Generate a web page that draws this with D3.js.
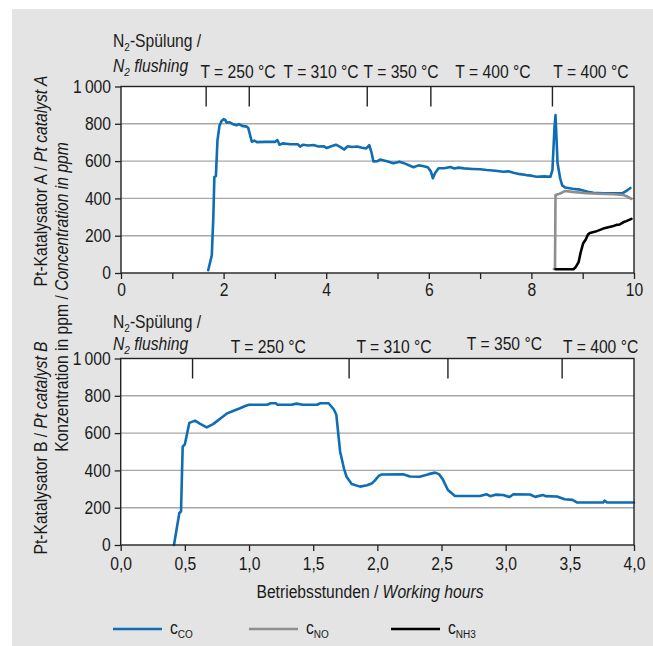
<!DOCTYPE html>
<html>
<head>
<meta charset="utf-8">
<script src="https://cdn.jsdelivr.net/npm/d3@7"></script>
<style>
  html, body { margin: 0; padding: 0; background: #fff; }
  svg { display: block; }
  text { font-family: "Liberation Sans", Arial, sans-serif; fill: #1a1a1a; }
</style>
</head>
<body>
<svg id="chart" width="653" height="646"></svg>
<script>
// ---- Catalyst A (hours 0–10) ----
const catalystA_CO = [[1.70,15],[1.77,95],[1.80,300],[1.82,515],[1.85,520],[1.88,710],[1.92,790],[1.96,815],[2.00,825],[2.03,822],[2.06,806],[2.12,808],[2.19,797],[2.25,792],[2.30,798],[2.36,789],[2.45,785],[2.48,778],[2.55,704],[2.60,710],[2.65,702],[2.80,703],[3.00,703],[3.05,712],[3.09,688],[3.15,695],[3.30,690],[3.45,690],[3.49,678],[3.55,688],[3.65,684],[3.75,686],[3.85,678],[3.95,680],[4.01,670],[4.10,680],[4.19,688],[4.28,675],[4.35,662],[4.42,680],[4.50,676],[4.60,678],[4.70,672],[4.78,668],[4.84,685],[4.88,650],[4.92,598],[5.00,600],[5.05,608],[5.20,598],[5.31,588],[5.43,597],[5.55,585],[5.70,567],[5.80,577],[5.88,574],[5.98,567],[6.04,545],[6.08,508],[6.12,535],[6.19,562],[6.30,562],[6.42,568],[6.50,560],[6.58,565],[6.69,561],[6.85,558],[7.00,556],[7.13,552],[7.30,548],[7.45,543],[7.55,545],[7.65,538],[7.78,530],[7.90,525],[8.00,522],[8.10,516],[8.25,518],[8.37,516],[8.41,552],[8.45,780],[8.47,847],[8.49,720],[8.51,588],[8.56,508],[8.60,470],[8.66,458],[8.80,452],[8.95,447],[9.10,435],[9.21,430],[9.40,428],[9.60,427],[9.78,428],[9.85,440],[9.93,456]];
const catalystA_NO = [[8.44,22],[8.46,30],[8.47,418],[8.55,425],[8.66,440],[8.80,435],[9.08,428],[9.30,425],[9.60,422],[9.79,418],[9.87,410],[9.95,397]];
const catalystA_NH3 = [[8.47,20],[8.60,20],[8.82,20],[8.86,30],[8.92,58],[8.96,110],[9.01,160],[9.06,180],[9.10,205],[9.14,215],[9.25,222],[9.40,238],[9.50,245],[9.60,252],[9.66,258],[9.72,260],[9.79,272],[9.85,278],[9.95,290]];
const catalystA_marks = [1.66, 2.5, 4.8, 6.04, 8.41];
const catalystA_phases = [[2.28,"T = 250 °C"],[3.90,"T = 310 °C"],[5.46,"T = 350 °C"],[7.25,"T = 400 °C"],[9.16,"T = 400 °C"]];
const catalystA_xTicks = [0,1,2,3,4,5,6,7,8,9,10];
const catalystA_xLabels = [0,2,4,6,8,10];

// ---- Catalyst B (hours 0–4) ----
const catalystB_CO = [[0.415,0],[0.457,172],[0.47,180],[0.483,527],[0.50,540],[0.535,655],[0.579,667],[0.62,650],[0.67,631],[0.72,648],[0.78,680],[0.83,706],[0.88,720],[0.93,733],[0.97,745],[1.0,752],[1.14,752],[1.17,760],[1.21,760],[1.22,752],[1.33,752],[1.37,758],[1.42,752],[1.53,752],[1.555,760],[1.62,760],[1.66,728],[1.68,700],[1.71,500],[1.74,410],[1.76,366],[1.80,327],[1.865,313],[1.92,320],[1.956,330],[1.98,345],[2.01,370],[2.03,378],[2.20,379],[2.255,367],[2.33,366],[2.40,380],[2.45,388],[2.48,380],[2.51,352],[2.55,295],[2.605,263],[2.80,263],[2.85,272],[2.88,262],[2.92,270],[2.98,268],[3.03,257],[3.06,272],[3.19,271],[3.23,258],[3.29,268],[3.31,262],[3.40,260],[3.46,245],[3.52,242],[3.555,228],[3.76,228],[3.77,238],[3.79,228],[4.0,228]];
const catalystB_marks = [0.56, 1.78, 2.55, 3.44];
const catalystB_phases = [[1.15,"T = 250 °C"],[2.13,"T = 310 °C"],[2.99,"T = 350 °C"],[3.74,"T = 400 °C"]];
const catalystB_xTicks = [0,0.5,1,1.5,2,2.5,3,3.5,4];

const yTicks = [0,200,400,600,800,1000];
const yTickLabels = ["0","200","400","600","800","1\u2009000"];

const colors = { co: "#0f6db3", no: "#8e8e8e", nh3: "#000000" };

const FS = 18;      // base font size
const SUB = 11.5;   // subscript size
const K = 0.87;     // horizontal condensing of the typeface

const svg = d3.select("#chart");
svg.append("rect").attr("x", 12).attr("y", 9).attr("width", 641).attr("height", 637).attr("fill", "#e3e4e3");

// Text placed at (x, y), optionally rotated, narrowed horizontally by K.
function label(parent, x, y, opts = {}) {
  const rot = opts.rotate ? ` rotate(${opts.rotate})` : "";
  return parent.append("text")
    .attr("transform", `translate(${x},${y})${rot} scale(${K},1)`)
    .attr("text-anchor", opts.anchor || "start")
    .attr("font-size", opts.size || FS);
}

// Narrow the texts generated by a d3 axis around their own anchor.
function condenseAxisText(sel) {
  sel.each(function () {
    const t = d3.select(this);
    const x = +t.attr("x") || 0;
    t.attr("transform", `translate(${x},0) scale(${K},1) translate(${-x},0)`);
  });
}

function panel(opt) {
  const x = d3.scaleLinear().domain(opt.xDomain).range([opt.left, opt.right]);
  const y = d3.scaleLinear().domain([0, 1000]).range([opt.bottom, opt.top]);
  const g = svg.append("g");

  g.append("rect").attr("x", opt.left).attr("y", opt.top)
    .attr("width", opt.right - opt.left).attr("height", opt.bottom - opt.top).attr("fill", "#fff");

  // gridlines
  g.selectAll(".grid").data([200,400,600,800]).join("line")
    .attr("x1", opt.left).attr("x2", opt.right)
    .attr("y1", d => y(d)).attr("y2", d => y(d))
    .attr("stroke", "#a8a8a8").attr("stroke-width", 1.4);

  // y axis
  const yAxis = d3.axisLeft(y).tickValues(yTicks).tickSize(6).tickPadding(4)
    .tickFormat((d, i) => yTickLabels[i]);
  const ya = g.append("g").attr("transform", `translate(${opt.left},0)`).call(yAxis);
  ya.select(".domain").remove();
  ya.selectAll("line").attr("stroke", "#222").attr("stroke-width", 1.3);
  ya.selectAll("text").attr("font-size", FS).attr("font-family", null).attr("fill", "#1a1a1a")
    .call(condenseAxisText);

  // x axis
  const xAxis = d3.axisBottom(x).tickValues(opt.xTicks).tickSize(6).tickPadding(opt.xPad)
    .tickFormat(opt.xFormat);
  const xa = g.append("g").attr("transform", `translate(0,${opt.bottom})`).call(xAxis);
  xa.select(".domain").remove();
  xa.selectAll("line").attr("stroke", "#222").attr("stroke-width", 1.3);
  xa.selectAll("text").attr("font-size", FS).attr("font-family", null).attr("fill", "#1a1a1a")
    .call(condenseAxisText);

  // phase boundary markers
  g.selectAll(".mark").data(opt.marks).join("line")
    .attr("x1", d => x(d)).attr("x2", d => x(d))
    .attr("y1", opt.top).attr("y2", opt.top + 20)
    .attr("stroke", "#222").attr("stroke-width", 1.4);

  // series
  const line = d3.line().x(d => x(d[0])).y(d => y(d[1]));
  opt.series.forEach(s => {
    g.append("path").datum(s.data).attr("d", line)
      .attr("fill", "none").attr("stroke", s.color).attr("stroke-width", 2.6)
      .attr("stroke-linejoin", "round").attr("stroke-linecap", "round");
  });

  // frame
  g.append("rect").attr("x", opt.left).attr("y", opt.top)
    .attr("width", opt.right - opt.left).attr("height", opt.bottom - opt.top)
    .attr("fill", "none").attr("stroke", "#222").attr("stroke-width", 1.4);

  // phase labels
  opt.phases.forEach((p, i) => {
    label(g, x(p[0]), opt.phaseY[i], { anchor: "middle" }).text(p[1]);
  });

  // N2 flushing label
  const n1 = label(g, 113, opt.n2Y[0]);
  n1.append("tspan").text("N");
  n1.append("tspan").attr("font-size", SUB).attr("dy", 4).text("2");
  n1.append("tspan").attr("dy", -4).text("-Spülung /");
  const n2 = label(g, 113, opt.n2Y[1]).attr("font-style", "italic");
  n2.append("tspan").text("N");
  n2.append("tspan").attr("font-size", SUB).attr("dy", 4).text("2");
  n2.append("tspan").attr("dy", -4).text(" flushing");

  // catalyst title
  const t = label(g, 47, opt.titleY, { rotate: -90, anchor: "middle" });
  t.append("tspan").text(opt.title[0]);
  t.append("tspan").attr("font-style", "italic").text(opt.title[1]);
  return { x, y };
}

panel({
  xDomain: [0, 10], left: 121, right: 634, top: 86.5, bottom: 273,
  xTicks: catalystA_xTicks, xPad: 4,
  xFormat: d => catalystA_xLabels.includes(d) ? String(d) : "",
  marks: catalystA_marks, phases: catalystA_phases,
  phaseY: [78, 78, 78, 78, 78], n2Y: [47, 72],
  series: [
    { data: catalystA_CO, color: colors.co },
    { data: catalystA_NO, color: colors.no },
    { data: catalystA_NH3, color: colors.nh3 }
  ],
  title: ["Pt-Katalysator A / ", "Pt catalyst A"], titleY: 181
});

panel({
  xDomain: [0, 4], left: 120.7, right: 634, top: 358.5, bottom: 545,
  xTicks: catalystB_xTicks, xPad: 6,
  xFormat: d => d3.format(".1f")(d).replace(".", ","),
  marks: catalystB_marks, phases: catalystB_phases,
  phaseY: [353, 353, 350, 353], n2Y: [328, 350],
  series: [{ data: catalystB_CO, color: colors.co }],
  title: ["Pt-Katalysator B / ", "Pt catalyst B"], titleY: 448
});

// shared y title
const yt = label(svg, 68, 297, { rotate: -90, anchor: "middle" });
yt.append("tspan").text("Konzentration in ppm / ");
yt.append("tspan").attr("font-style", "italic").text("Concentration in ppm");

// x title
const xt = label(svg, 370, 598, { anchor: "middle" });
xt.append("tspan").text("Betriebsstunden / ");
xt.append("tspan").attr("font-style", "italic").text("Working hours");

// legend
const legendItems = [
  { color: colors.co, sub: "CO", x: 113 },
  { color: colors.no, sub: "NO", x: 249 },
  { color: colors.nh3, sub: "NH3", x: 391 }
];
const lg = svg.append("g");
legendItems.forEach(it => {
  lg.append("line").attr("x1", it.x).attr("x2", it.x + 49).attr("y1", 629).attr("y2", 629)
    .attr("stroke", it.color).attr("stroke-width", 2.6);
  const tx = label(lg, it.x + 57, 634);
  tx.append("tspan").text("c");
  tx.append("tspan").attr("font-size", SUB).attr("dy", 4).text(it.sub);
});
</script>
</body>
</html>
